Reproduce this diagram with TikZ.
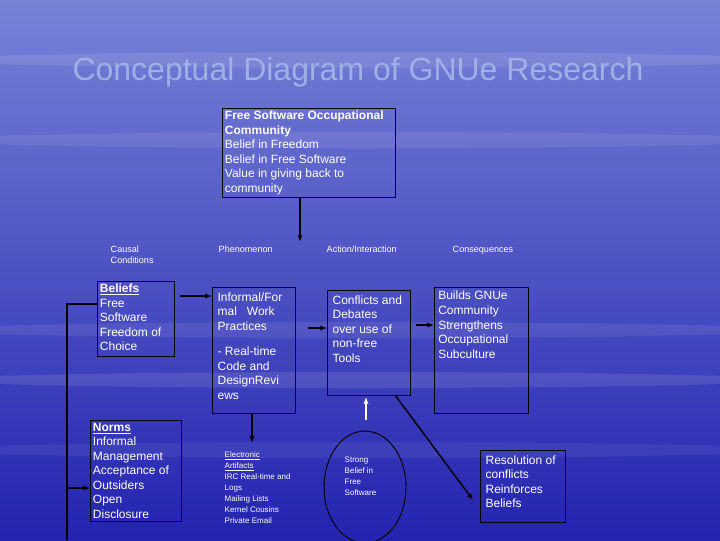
\documentclass[tikz,border=0pt]{standalone}
\usepackage{fontspec}
\setmainfont{Liberation Sans}
\usetikzlibrary{arrows.meta}
\definecolor{bgtop}{RGB}{120,130,215}
\definecolor{bgmid}{RGB}{60,60,200}
\definecolor{bgbot}{RGB}{35,35,175}
\definecolor{titlec}{RGB}{160,175,230}
\tikzset{
  frame/.style={draw=black, line width=0.7pt, anchor=north west, inner sep=0pt},
  txt/.style={anchor=north west, align=left, inner sep=3pt, text=white, font=\fontsize{9}{10.9}\selectfont},
  lbl/.style={anchor=north west, text=white, align=left, font=\fontsize{6.8}{8.5}\selectfont},
  arr/.style={-{Latex[length=5pt,width=4pt]}, line width=1.1pt, black},
  ln/.style={line width=1pt, black}
}
\begin{document}
\begin{tikzpicture}[x=0.75pt,y=-0.75pt]
\useasboundingbox (0,0) rectangle (720,540);
\shade[top color=bgtop, middle color=bgmid, bottom color=bgbot] (0,0) rectangle (720,540);
\foreach \y/\o in {60/0.1,140/0.08,330/0.08,380/0.1,450/0.06}{
  \fill[white, opacity=\o] (360,\y) ellipse (420 and 8);}
\node[text=titlec, font=\fontsize{24}{26}\selectfont] (title) at (358,72) {Conceptual Diagram of GNUe Research};
\node[frame, minimum width=129.75pt, minimum height=66.75pt] (top) at (222,108) {};
\node[txt, inner sep=2pt] (topt) at (top.north west) {\textbf{Free Software Occupational}\\\textbf{Community}\\Belief in Freedom\\Belief in Free Software\\Value in giving back to\\community};
\node[lbl] (cc) at (106,241) {Causal\\Conditions};
\node[lbl] (ph) at (214,241) {Phenomenon};
\node[lbl] (ai) at (322,241) {Action/Interaction};
\node[lbl] (co) at (448,241) {Consequences};
\node[frame, minimum width=57.75pt, minimum height=56.25pt] (bel) at (97,281) {};
\node[txt, inner sep=2pt] (belt) at (bel.north west) {\textbf{\underline{Beliefs}}\\Free\\Software\\Freedom of\\Choice};
\node[frame, minimum width=62.25pt, minimum height=94.5pt] (inf) at (212,287) {};
\node[txt, inner sep=4pt] (inft) at (inf.north west) {Informal/For\\mal\ \ \ Work\\Practices\\[8pt]- Real-time\\Code and\\DesignRevi\\ews};
\node[frame, minimum width=62.25pt, minimum height=78.75pt] (con) at (327,290) {};
\node[txt, inner sep=4pt] (cont) at (con.north west) {Conflicts and\\Debates\\over\ use of\\non-free\\Tools};
\node[frame, minimum width=70.5pt, minimum height=94.5pt] (bui) at (434,287) {};
\node[txt, inner sep=3pt] (buit) at (bui.north west) {Builds GNUe\\Community\\Strengthens\\Occupational\\Subculture};
\node[frame, minimum width=68.25pt, minimum height=75.75pt] (nor) at (90,420) {};
\node[txt, inner sep=2pt] (nort) at (nor.north west) {\textbf{\underline{Norms}}\\Informal\\Management\\Acceptance of\\Outsiders\\Open\\Disclosure};
\node[frame, minimum width=63.75pt, minimum height=54pt] (res) at (480,450) {};
\node[txt, inner sep=4pt] (rest) at (res.north west) {Resolution of\\conflicts\\Reinforces\\Beliefs};
\node[lbl, font=\fontsize{6}{8.2}\selectfont] (ele) at (220,447) {\underline{Electronic}\\\underline{Artifacts}\\IRC Real-time and\\Logs\\Mailing Lists\\Kernel Cousins\\Private Email};
\draw[line width=0.7pt, black] (365,487) ellipse (41 and 56);
\node[lbl, font=\fontsize{6}{8.2}\selectfont] (sb) at (340,452) {Strong\\Belief in\\Free\\Software};
\coordinate (ua) at (366,420);
\coordinate (l1) at (67,304);
\coordinate (l2) at (67,540);
\coordinate (l3) at (67,488);
\draw[arr] (300,197) -- (300,242);
\draw[arr] (180,296) -- (inf.west |- 0,296);
\draw[arr] (308,328) -- (con.west |- 0,328);
\draw[arr] (416,325) -- (bui.west |- 0,325);
\draw[arr] (252,413) -- (252,443);
\draw[-{Latex[length=5pt,width=4pt]}, line width=1.3pt, white] (ua) -- (366,397);
\draw[arr] (395,395) -- (473,500);
\draw[ln] (bel.west |- l1) -- (l1) -- (l2);
\draw[arr] (l3) -- (nor.west |- l3);
\end{tikzpicture}
\end{document}
